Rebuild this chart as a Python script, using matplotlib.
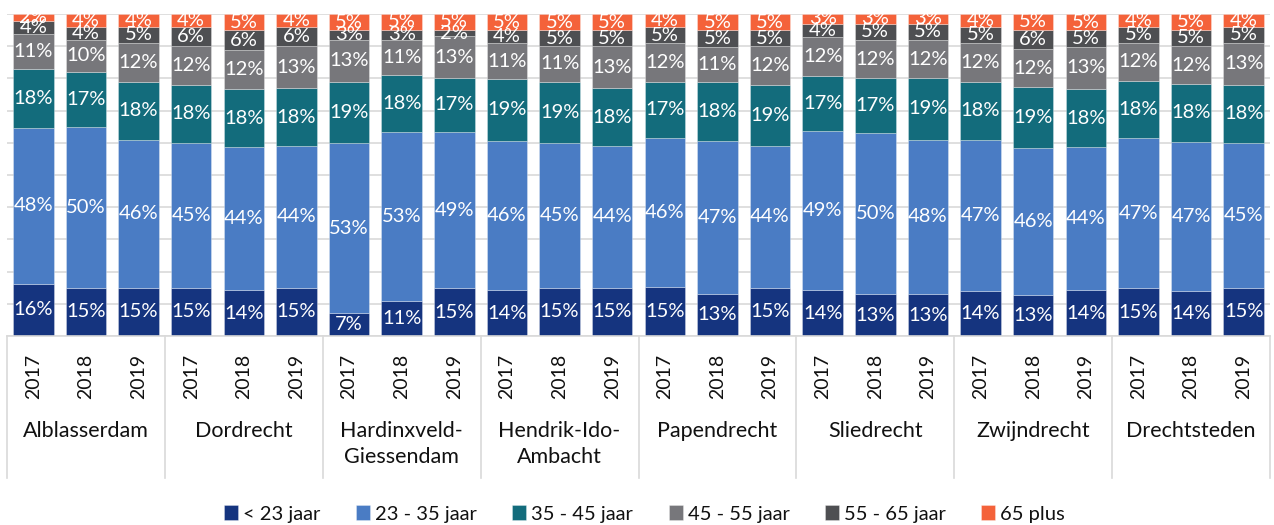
import numpy as np
import matplotlib.pyplot as plt
import matplotlib.transforms as mtransforms

plt.rcParams['font.family'] = ['Lato', 'DejaVu Sans']

gemeenten = ["Alblasserdam", "Dordrecht", "Hardinxveld-\nGiessendam", "Hendrik-Ido-\nAmbacht",
             "Papendrecht", "Sliedrecht", "Zwijndrecht", "Drechtsteden"]
jaren = ["2017", "2018", "2019"]

series = ["< 23 jaar", "23 - 35 jaar", "35 - 45 jaar", "45 - 55 jaar", "55 - 65 jaar", "65 plus"]
colors = ["#15347F", "#4A7CC4", "#136C7C", "#77777B", "#4E4F52", "#F4623A"]

# per bar (gemeente x jaar), percentages as labelled
onder_23 = [16, 15, 15, 15, 14, 15, 7, 11, 15, 14, 15, 15, 15, 13, 15, 14, 13, 13, 14, 13, 14, 15, 14, 15]
j23_35 = [48, 50, 46, 45, 44, 44, 53, 53, 49, 46, 45, 44, 46, 47, 44, 49, 50, 48, 47, 46, 44, 47, 47, 45]
j35_45 = [18, 17, 18, 18, 18, 18, 19, 18, 17, 19, 19, 18, 17, 18, 19, 17, 17, 19, 18, 19, 18, 18, 18, 18]
j45_55 = [11, 10, 12, 12, 12, 13, 13, 11, 13, 11, 11, 13, 12, 11, 12, 12, 12, 12, 12, 12, 13, 12, 12, 13]
j55_65 = [4, 4, 5, 6, 6, 6, 3, 3, 2, 4, 5, 5, 5, 5, 5, 4, 5, 5, 5, 6, 5, 5, 5, 5]
plus65 = [2, 4, 4, 4, 5, 4, 5, 5, 5, 5, 5, 5, 4, 5, 5, 3, 3, 3, 4, 5, 5, 4, 5, 4]

data = np.array([onder_23, j23_35, j35_45, j45_55, j55_65, plus65], dtype=float)
hoogte = data / data.sum(axis=0) * 100
x = np.arange(data.shape[1])

fig = plt.figure(figsize=(12.74, 5.25), dpi=100)
ax = fig.add_axes([7/1274, 1 - 336/525, 1263/1274, 322/525])

bottom = np.zeros(len(x))
for i in range(len(series)):
    ax.bar(x, hoogte[i], bottom=bottom, width=0.77, color=colors[i], label=series[i],
           edgecolor=(1, 1, 1, 0.35), linewidth=0.6, zorder=2)
    for xi, b, h, v in zip(x, bottom, hoogte[i], data[i]):
        ax.text(xi, b + h / 2, f"{int(v)}%", ha='center', va='center', color='white',
                fontsize=14.5, zorder=3)
    bottom += hoogte[i]

ax.set_xlim(-0.5, len(x) - 0.5)
ax.set_ylim(0, 100)
ax.set_yticks(np.arange(0, 101, 10))
ax.yaxis.grid(True, color='#D9D9D9', linewidth=1.2, zorder=0)
ax.set_axisbelow(True)
ax.tick_params(axis='y', left=False, labelleft=False)
for s in ['top', 'right', 'left']:
    ax.spines[s].set_visible(False)
ax.spines['bottom'].set_color('#D9D9D9')
ax.spines['bottom'].set_linewidth(1.2)

ax.set_xticks(x)
ax.set_xticklabels(jaren * len(gemeenten), rotation=90, fontsize=14, color='#111111')
ax.tick_params(axis='x', length=0, pad=13)

trans = mtransforms.blended_transform_factory(ax.transData, ax.transAxes)
for g in range(len(gemeenten) + 1):
    ax.plot([g * 3 - 0.5, g * 3 - 0.5], [0, -142/322], transform=trans, color='#D9D9D9',
            linewidth=1.2, clip_on=False)
for g, naam in enumerate(gemeenten):
    ax.text(g * 3 + 1, -(421 - 336) / 322, naam, transform=trans, ha='center', va='top',
            fontsize=15.5, color='#111111', linespacing=1.35)

fig.legend(loc='center', bbox_to_anchor=(0.506, 1 - 514/525), ncol=6, frameon=False,
           fontsize=14.5, handlelength=0.7, handleheight=0.7, handletextpad=0.25,
           columnspacing=1.75, labelcolor='#111111')

fig.savefig("out.png", dpi=100)
